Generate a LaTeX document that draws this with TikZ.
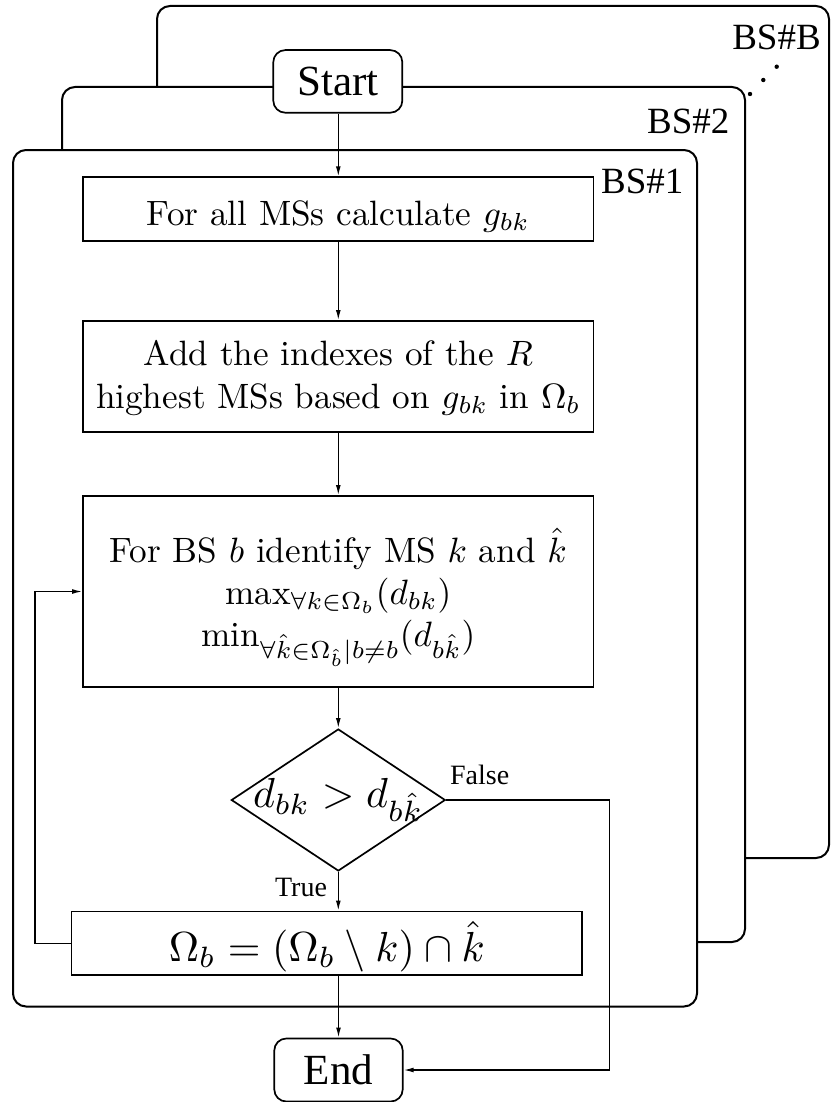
\documentclass[tikz,border=0pt]{standalone}
\usepackage{fontspec}
\usepackage{graphicx}
\newfontfamily\tnr{Liberation Serif}
\usetikzlibrary{shapes.geometric,arrows.meta}

% centred multi-line text, set at 10pt, scaled as a whole and lowered a little
\newcommand\stk[3]{\raisebox{#2}[\height][\depth]{\scalebox{#1}{\begin{tabular}{@{}c@{}}#3\end{tabular}}}}

\tikzset{
  frame/.style={draw, line width=1pt, rounded corners=6.5pt, fill=white},
  proc/.style={draw, line width=0.85pt, fill=white, inner sep=0pt,
    font=\fontsize{10}{12}\selectfont},
  term/.style={draw, line width=0.85pt, rounded corners=6pt, fill=white, inner sep=0pt,
    font=\tnr\fontsize{21.5}{26}\selectfont},
  decision/.style={draw, line width=0.85pt, fill=white, shape=diamond, inner sep=0pt,
    aspect=1.507, minimum width=107pt, minimum height=71pt,
    font=\fontsize{10}{12}\selectfont},
  flow/.style={line width=0.65pt, -{Latex[length=5pt,width=2.4pt]}},
  bslabel/.style={font=\tnr\fontsize{18.5}{22}\selectfont, inner sep=0pt, anchor=base},
  branch/.style={font=\tnr\fontsize{14}{16}\selectfont, inner sep=0pt, anchor=base},
}

\begin{document}
\begin{tikzpicture}[x=0.5pt, y=-0.5pt]
\useasboundingbox (0,0) rectangle (830,1102);

% stacked base-station frames, back to front
\draw[frame] (157,6) rectangle (829,858);
\draw[frame] (62,87) rectangle (745,942);
\draw[frame] (13,150) rectangle (697,1006.5);

\node[bslabel] (lblB) at (776.5,50) {BS\#B};
\node[bslabel] (lbl2) at (688.3,133.3) {BS\#2};
\node[bslabel] (lbl1) at (642.3,193.3) {BS\#1};

% ellipsis between BS#2 and BS#B
\fill (776.7,66.7) circle (1.1pt);
\fill (763.3,80) circle (1.1pt);
\fill (750,94) circle (1.1pt);

% flowchart nodes
\node[term, minimum width=64.5pt, minimum height=31.3pt] (start) at (337.8,81.4) {Start};
\node[proc, minimum width=255.25pt, minimum height=31.7pt] (calc) at (338.3,209)
  {\stk{1.76}{-4pt}{For all MSs calculate $g_{bk}$}};
\node[proc, minimum width=255.25pt, minimum height=55.5pt] (add) at (338.3,376.5)
  {\stk{1.76}{-1pt}{Add the indexes of the $R$\\ highest MSs based on $g_{bk}$ in $\Omega_b$}};
\node[proc, minimum width=255.25pt, minimum height=95.5pt] (ident) at (338.3,591.5)
  {\stk{1.76}{-3pt}{For BS $b$ identify MS $k$ and $\hat{k}$\\
   $\max_{\forall k\in\Omega_b}(d_{bk})$\\
   $\min_{\forall \hat{k}\in\Omega_{\hat{b}}|b\neq b}(d_{b\hat{k}})$}};
\node[decision] (dec) at (338.3,800)
  {\makebox[0pt]{\scalebox{2.1}{$d_{bk} > d_{b\hat{k}}$}}};
\node[proc, minimum width=255.25pt, minimum height=31.75pt] (upd) at (326.8,943.3)
  {\raisebox{-1.5pt}[\height][\depth]{\scalebox{2.1}{$\Omega_b = (\Omega_b \setminus k) \cap \hat{k}$}}};
\node[term, minimum width=64.2pt, minimum height=31.5pt] (end) at (338.5,1070) {End};

\coordinate (loopx) at (35,591.5);
\coordinate (falsex) at (609.5,800);

% connectors
\draw[flow] (calc.north |- start.south) -- (calc.north);
\draw[flow] (calc) -- (add);
\draw[flow] (add) -- (ident);
\draw[flow] (ident) -- (dec);
\draw[flow] (dec.south) -- (dec.south |- upd.north);
\draw[flow] (end.north |- upd.south) -- (end.north);
\draw[flow] (upd.west) -| (loopx) -- (ident.west);
\draw[flow] (dec.east) -- (falsex) |- (end.east);

\node[branch] (tlabel) at (301,896.7) {True};
\node[branch] (flabel) at (479.7,784) {False};
\end{tikzpicture}
\end{document}
